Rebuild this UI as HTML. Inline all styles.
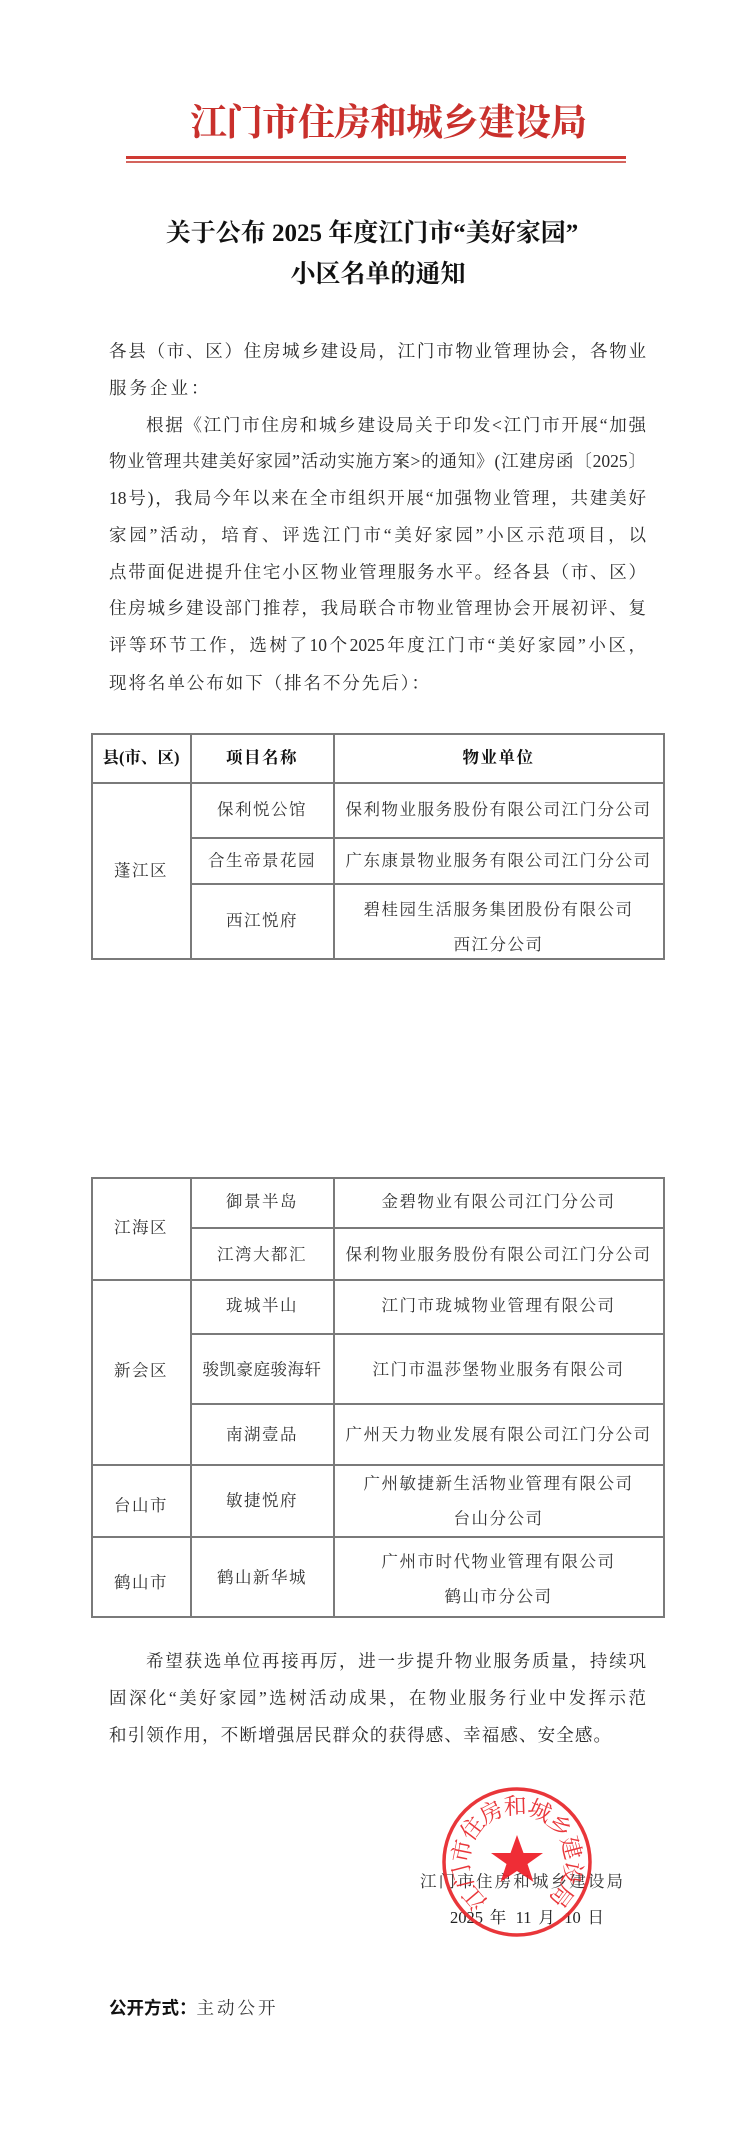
<!DOCTYPE html>
<html><head><meta charset="utf-8"><style>
html,body{margin:0;padding:0;background:#fff;}
body{width:756px;height:2136px;position:relative;overflow:hidden;font-family:"Liberation Serif","Noto Serif CJK SC",serif;color:#2a2a2a;}
.a{position:absolute;white-space:nowrap;}
.ln{position:absolute;left:109px;width:537px;height:24px;line-height:24px;font-size:17.5px;text-align:justify;text-align-last:justify;white-space:nowrap;}
.c{position:absolute;text-align:center;font-size:16.5px;letter-spacing:1.5px;line-height:35px;color:#333;}
.h{position:absolute;background:#7a7a7a;height:1.5px;}
.v{position:absolute;background:#7a7a7a;width:1.5px;}
</style></head><body>
<div class="a" style="left:190px;top:96px;width:372px;font-size:37px;line-height:46px;font-weight:bold;color:#c9302c;text-align:center;letter-spacing:-1px;font-family:'Noto Serif CJK SC',serif;">江门市住房和城乡建设局</div>
<div class="a" style="left:126px;top:156px;width:500px;height:3px;background:#cf3a33;"></div>
<div class="a" style="left:126px;top:161px;width:500px;height:2px;background:#d4645d;"></div>

<div class="a" style="left:146px;top:218px;width:452px;font-size:25px;line-height:32px;font-weight:bold;color:#111;text-align:center;">关于公布 2025 年度江门市“美好家园”</div>
<div class="a" style="left:200px;top:259px;width:356px;font-size:25px;line-height:32px;font-weight:bold;color:#111;text-align:center;">小区名单的通知</div>

<div class="ln" style="top:339px">各县（市、区）住房城乡建设局，江门市物业管理协会，各物业</div>
<div class="ln" style="top:376px;text-align-last:left;letter-spacing:3px">服务企业：</div>
<div class="ln" style="top:413px;left:146px;width:500px">根据《江门市住房和城乡建设局关于印发&lt;江门市开展“加强</div>
<div class="ln" style="top:449px">物业管理共建美好家园”活动实施方案&gt;的通知》(江建房函〔2025〕</div>
<div class="ln" style="top:486px">18号)，我局今年以来在全市组织开展“加强物业管理，共建美好</div>
<div class="ln" style="top:523px">家园”活动，培育、评选江门市“美好家园”小区示范项目，以</div>
<div class="ln" style="top:560px">点带面促进提升住宅小区物业管理服务水平。经各县（市、区）</div>
<div class="ln" style="top:596px">住房城乡建设部门推荐，我局联合市物业管理协会开展初评、复</div>
<div class="ln" style="top:633px">评等环节工作，选树了10个2025年度江门市“美好家园”小区，</div>
<div class="ln" style="top:671px;width:320px">现将名单公布如下（排名不分先后）：</div>

<!-- table 1 -->
<div class="h" style="left:91px;width:574px;top:733px"></div>
<div class="h" style="left:91px;width:574px;top:782px"></div>
<div class="h" style="left:190px;width:475px;top:837px"></div>
<div class="h" style="left:190px;width:475px;top:883px"></div>
<div class="h" style="left:91px;width:574px;top:958px"></div>
<div class="v" style="left:91px;top:733px;height:226px"></div>
<div class="v" style="left:190px;top:733px;height:226px"></div>
<div class="v" style="left:333px;top:733px;height:226px"></div>
<div class="v" style="left:663px;top:733px;height:226px"></div>
<div class="c" style="left:91px;width:100px;top:740px;font-weight:bold;color:#111;letter-spacing:0">县(市、区)</div>
<div class="c" style="left:190px;width:144px;top:740px;font-weight:bold;color:#111">项目名称</div>
<div class="c" style="left:333px;width:331px;top:740px;font-weight:bold;color:#111">物业单位</div>
<div class="c" style="left:91px;width:100px;top:853px">蓬江区</div>
<div class="c" style="left:190px;width:144px;top:792px">保利悦公馆</div>
<div class="c" style="left:333px;width:331px;top:792px">保利物业服务股份有限公司江门分公司</div>
<div class="c" style="left:190px;width:144px;top:843px">合生帝景花园</div>
<div class="c" style="left:333px;width:331px;top:843px">广东康景物业服务有限公司江门分公司</div>
<div class="c" style="left:190px;width:144px;top:903px">西江悦府</div>
<div class="c" style="left:333px;width:331px;top:892px">碧桂园生活服务集团股份有限公司<br>西江分公司</div>

<!-- table 2 -->
<div class="h" style="left:91px;width:574px;top:1177px"></div>
<div class="h" style="left:190px;width:475px;top:1227px"></div>
<div class="h" style="left:91px;width:574px;top:1279px"></div>
<div class="h" style="left:190px;width:475px;top:1333px"></div>
<div class="h" style="left:190px;width:475px;top:1403px"></div>
<div class="h" style="left:91px;width:574px;top:1464px"></div>
<div class="h" style="left:91px;width:574px;top:1536px"></div>
<div class="h" style="left:91px;width:574px;top:1616px"></div>
<div class="v" style="left:91px;top:1177px;height:441px"></div>
<div class="v" style="left:190px;top:1177px;height:441px"></div>
<div class="v" style="left:333px;top:1177px;height:441px"></div>
<div class="v" style="left:663px;top:1177px;height:441px"></div>
<div class="c" style="left:91px;width:100px;top:1210px">江海区</div>
<div class="c" style="left:190px;width:144px;top:1184px">御景半岛</div>
<div class="c" style="left:333px;width:331px;top:1184px">金碧物业有限公司江门分公司</div>
<div class="c" style="left:190px;width:144px;top:1237px">江湾大都汇</div>
<div class="c" style="left:333px;width:331px;top:1237px">保利物业服务股份有限公司江门分公司</div>
<div class="c" style="left:91px;width:100px;top:1353px">新会区</div>
<div class="c" style="left:190px;width:144px;top:1288px">珑城半山</div>
<div class="c" style="left:333px;width:331px;top:1288px">江门市珑城物业管理有限公司</div>
<div class="c" style="left:190px;width:144px;top:1352px;letter-spacing:0.5px">骏凯豪庭骏海轩</div>
<div class="c" style="left:333px;width:331px;top:1352px">江门市温莎堡物业服务有限公司</div>
<div class="c" style="left:190px;width:144px;top:1417px">南湖壹品</div>
<div class="c" style="left:333px;width:331px;top:1417px">广州天力物业发展有限公司江门分公司</div>
<div class="c" style="left:91px;width:100px;top:1488px">台山市</div>
<div class="c" style="left:190px;width:144px;top:1483px">敏捷悦府</div>
<div class="c" style="left:333px;width:331px;top:1466px">广州敏捷新生活物业管理有限公司<br>台山分公司</div>
<div class="c" style="left:91px;width:100px;top:1565px">鹤山市</div>
<div class="c" style="left:190px;width:144px;top:1560px">鹤山新华城</div>
<div class="c" style="left:333px;width:331px;top:1544px">广州市时代物业管理有限公司<br>鹤山市分公司</div>

<div class="ln" style="top:1649px;left:146px;width:500px">希望获选单位再接再厉，进一步提升物业服务质量，持续巩</div>
<div class="ln" style="top:1686px">固深化“美好家园”选树活动成果，在物业服务行业中发挥示范</div>
<div class="ln" style="top:1723px;width:502px">和引领作用，不断增强居民群众的获得感、幸福感、安全感。</div>

<div class="a" style="left:420px;top:1870px;width:203px;font-size:16.5px;line-height:24px;text-align:justify;text-align-last:justify;color:#333;">江门市住房和城乡建设局</div>
<div class="a" style="left:450px;top:1906px;width:154px;font-size:16.5px;line-height:24px;text-align:justify;text-align-last:justify;color:#222;">2025 年 11 月 10 日</div>

<svg class="a" style="left:437px;top:1782px;opacity:0.92" width="160" height="160" viewBox="0 0 160 160">
<defs><path id="arc" d="M 51.8 118.8 A 48 48 0 1 1 108.2 118.8"/></defs>
<circle cx="80" cy="80" r="73" fill="none" stroke="#e8262a" stroke-width="3.5"/>
<polygon fill="#ee1c25" points="80,53 86.5,71 106,71 90.5,82 96.5,100 80,89 63.5,100 69.5,82 54,71 73.5,71"/>
<text font-size="23" fill="#e8262a" font-family="'Noto Serif CJK SC',serif"><textPath href="#arc" startOffset="0" textLength="238" lengthAdjust="spacing">江门市住房和城乡建设局</textPath></text>
</svg>

<div class="a" style="left:109px;top:1996px;font-size:17.5px;line-height:24px;color:#111;"><b style="font-family:'Noto Sans CJK SC',sans-serif">公开方式：</b><span style="letter-spacing:3px;color:#333">主动公开</span></div>
</body></html>
